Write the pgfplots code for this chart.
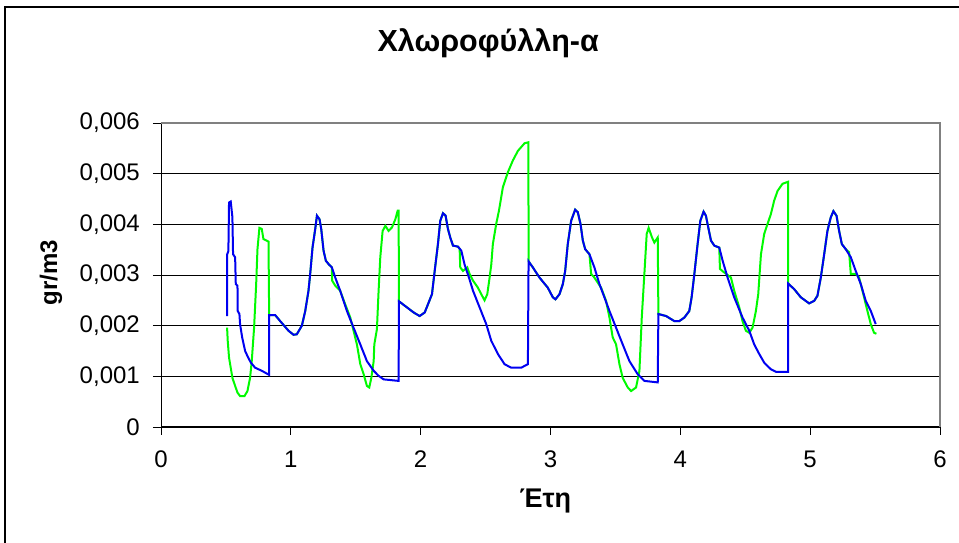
\documentclass[border=0pt]{standalone}
\usepackage{fontspec}
\setmainfont{Liberation Sans}
\usepackage{pgfplots}
\pgfplotsset{compat=1.18}
\definecolor{xlblue}{RGB}{0,0,240}
\definecolor{xlgreen}{RGB}{0,250,0}
\begin{document}
\begin{tikzpicture}
\useasboundingbox (0,0) rectangle (959bp,543bp);
\draw[black, line width=1.4bp] (5bp,-2bp) -- (5bp,536bp) -- (962bp,536bp);
\begin{axis}[
  at={(161bp,116bp)}, anchor=south west,
  scale only axis, width=779bp, height=304bp,
  xmin=0, xmax=6, ymin=0, ymax=0.006,
  axis x line*=bottom, axis y line*=left,
  axis line style={black, line width=1bp, -},
  xtick={0,1,2,3,4,5,6},
  xticklabels={0,1,2,3,4,5,6},
  ytick={0,0.001,0.002,0.003,0.004,0.005,0.006},
  yticklabels={0,{0,001},{0,002},{0,003},{0,004},{0,005},{0,006}},
  scaled y ticks=false,
  tick align=outside, major tick length=8bp,
  tick style={black, line width=0.8bp},
  ymajorgrids, major grid style={black, line width=0.8bp},
  ticklabel style={font=\fontsize{24bp}{28bp}\selectfont, inner sep=0pt},
  yticklabel style={anchor=east, xshift=-13bp},
  xticklabel style={anchor=north, yshift=-16bp},
  title={Χλωροφύλλη-α},
  title style={font=\bfseries\fontsize{30.5bp}{34bp}\selectfont, at={(axis description cs:0.42,1.217)}, anchor=base, inner sep=0pt},
  xlabel={Έτη},
  xlabel style={font=\bfseries\fontsize{27bp}{30bp}\selectfont, at={(axis description cs:0.4935,-0.266)}, anchor=base, inner sep=0pt},
  ylabel={gr/m3},
  ylabel style={font=\bfseries\fontsize{24bp}{28bp}\selectfont, at={(axis description cs:-0.1335,0.507)}, anchor=base, inner sep=0pt, rotate=0},
  clip=false,
]
\draw[gray, line width=1.2bp] (rel axis cs:0,1) -- (rel axis cs:1,1) -- (rel axis cs:1,0);
\addplot[xlgreen, line width=2bp] coordinates {
(0.509,0.00196)(0.514,0.00170)(0.524,0.00137)(0.550,0.00097)(0.571,0.00081)(0.589,0.00068)(0.609,0.00061)(0.643,0.00061)(0.666,0.00071)(0.686,0.00097)(0.699,0.00130)(0.717,0.00196)(0.733,0.00282)(0.743,0.00351)(0.758,0.00393)(0.776,0.00391)(0.789,0.00371)(0.828,0.00366)(0.833,0.00221)
(0.879,0.00221)(0.918,0.00209)(0.982,0.00190)(1.021,0.00182)(1.046,0.00183)(1.085,0.00200)(1.111,0.00229)(1.136,0.00269)(1.149,0.00302)(1.167,0.00354)(1.188,0.00391)(1.201,0.00417)(1.221,0.00410)(1.234,0.00391)(1.252,0.00348)(1.270,0.00328)(1.296,0.00320)(1.316,0.00315)
(1.318,0.00289)(1.342,0.00279)(1.380,0.00269)(1.419,0.00242)(1.458,0.00216)(1.483,0.00190)(1.509,0.00163)(1.535,0.00124)(1.561,0.00104)(1.586,0.00081)(1.604,0.00078)(1.620,0.00097)(1.638,0.00130)(1.643,0.00163)(1.663,0.00193)(1.676,0.00269)(1.689,0.00335)(1.707,0.00387)(1.728,0.00397)(1.753,0.00387)(1.779,0.00394)(1.805,0.00410)(1.823,0.00427)(1.830,0.00427)(1.833,0.00248)
(1.895,0.00236)(1.946,0.00226)(1.992,0.00219)(2.031,0.00226)(2.087,0.00262)(2.108,0.00308)(2.133,0.00361)(2.151,0.00407)(2.172,0.00422)(2.192,0.00417)(2.210,0.00391)(2.228,0.00374)(2.249,0.00358)(2.287,0.00356)(2.300,0.00352)
(2.305,0.00315)(2.326,0.00308)(2.359,0.00315)(2.377,0.00302)(2.403,0.00289)(2.441,0.00275)(2.467,0.00262)(2.492,0.00250)(2.513,0.00262)(2.531,0.00295)(2.544,0.00321)(2.556,0.00361)(2.582,0.00401)(2.603,0.00427)(2.633,0.00473)(2.672,0.00503)(2.710,0.00526)(2.749,0.00545)(2.800,0.00560)(2.830,0.00562)(2.831,0.00327)
(2.864,0.00315)(2.915,0.00295)(2.979,0.00275)(3.018,0.00256)(3.038,0.00252)(3.069,0.00262)(3.095,0.00282)(3.113,0.00308)(3.133,0.00361)(3.159,0.00407)(3.190,0.00429)(3.210,0.00424)(3.231,0.00401)(3.249,0.00368)(3.267,0.00351)(3.300,0.00341)
(3.313,0.00302)(3.338,0.00295)(3.390,0.00275)(3.428,0.00249)(3.454,0.00216)(3.479,0.00177)(3.505,0.00163)(3.531,0.00124)(3.556,0.00097)(3.595,0.00078)(3.621,0.00071)(3.659,0.00078)(3.685,0.00111)(3.703,0.00216)(3.723,0.00302)(3.741,0.00381)(3.756,0.00393)(3.782,0.00374)(3.800,0.00364)(3.826,0.00374)(3.831,0.00223)
(3.890,0.00219)(3.954,0.00209)(3.992,0.00209)(4.031,0.00216)(4.069,0.00229)(4.087,0.00256)(4.108,0.00302)(4.133,0.00361)(4.154,0.00407)(4.179,0.00425)(4.197,0.00417)(4.215,0.00394)(4.236,0.00368)(4.262,0.00358)(4.300,0.00354)
(4.305,0.00312)(4.338,0.00305)(4.390,0.00295)(4.415,0.00269)(4.454,0.00236)(4.479,0.00209)(4.505,0.00190)(4.531,0.00186)(4.556,0.00196)(4.582,0.00229)(4.600,0.00262)(4.621,0.00341)(4.646,0.00381)(4.672,0.00401)(4.697,0.00420)(4.723,0.00447)(4.749,0.00466)(4.787,0.00480)(4.830,0.00484)(4.831,0.00283)
(4.877,0.00272)(4.928,0.00256)(4.992,0.00244)(5.031,0.00249)(5.056,0.00259)(5.082,0.00295)(5.108,0.00341)(5.133,0.00387)(5.159,0.00414)(5.179,0.00426)(5.203,0.00417)(5.223,0.00387)(5.244,0.00361)(5.274,0.00351)(5.300,0.00345)
(5.313,0.00302)(5.351,0.00302)(5.377,0.00295)(5.415,0.00256)(5.441,0.00229)(5.467,0.00203)(5.492,0.00186)(5.510,0.00184)
};
\addplot[xlblue, line width=2bp] coordinates {
(0.509,0.00219)(0.510,0.00341)(0.519,0.00347)(0.524,0.00443)(0.537,0.00445)(0.550,0.00414)(0.555,0.00341)(0.571,0.00335)(0.576,0.00282)(0.589,0.00279)(0.591,0.00229)(0.604,0.00223)(0.609,0.00203)(0.625,0.00177)(0.648,0.00150)(0.666,0.00140)(0.692,0.00127)(0.725,0.00117)(0.776,0.00111)(0.832,0.00103)(0.833,0.00221)
(0.879,0.00221)(0.918,0.00209)(0.982,0.00190)(1.021,0.00182)(1.046,0.00183)(1.085,0.00200)(1.111,0.00229)(1.136,0.00269)(1.149,0.00302)(1.167,0.00354)(1.188,0.00391)(1.201,0.00417)(1.221,0.00410)(1.234,0.00391)(1.252,0.00348)(1.270,0.00328)(1.296,0.00320)(1.316,0.00315)(1.342,0.00295)(1.380,0.00269)(1.432,0.00229)(1.483,0.00196)(1.535,0.00163)(1.586,0.00130)(1.638,0.00111)(1.676,0.00101)(1.715,0.00094)(1.830,0.00091)(1.833,0.00248)
(1.895,0.00236)(1.946,0.00226)(1.992,0.00219)(2.031,0.00226)(2.087,0.00262)(2.108,0.00308)(2.133,0.00361)(2.151,0.00407)(2.172,0.00422)(2.192,0.00417)(2.210,0.00391)(2.228,0.00374)(2.249,0.00358)(2.287,0.00356)(2.313,0.00348)(2.338,0.00321)(2.372,0.00295)(2.403,0.00269)(2.454,0.00236)(2.505,0.00203)(2.544,0.00170)(2.595,0.00144)(2.646,0.00124)(2.697,0.00117)(2.774,0.00117)(2.826,0.00124)(2.831,0.00327)
(2.864,0.00315)(2.915,0.00295)(2.979,0.00275)(3.018,0.00256)(3.038,0.00252)(3.069,0.00262)(3.095,0.00282)(3.113,0.00308)(3.133,0.00361)(3.159,0.00407)(3.190,0.00429)(3.210,0.00424)(3.231,0.00401)(3.249,0.00368)(3.267,0.00351)(3.300,0.00341)(3.338,0.00315)(3.377,0.00282)(3.415,0.00256)(3.454,0.00229)(3.505,0.00196)(3.556,0.00163)(3.608,0.00130)(3.672,0.00104)(3.723,0.00091)(3.826,0.00088)(3.831,0.00223)
(3.890,0.00219)(3.954,0.00209)(3.992,0.00209)(4.031,0.00216)(4.069,0.00229)(4.087,0.00256)(4.108,0.00302)(4.133,0.00361)(4.154,0.00407)(4.179,0.00425)(4.197,0.00417)(4.215,0.00394)(4.236,0.00368)(4.262,0.00358)(4.300,0.00354)(4.326,0.00328)(4.364,0.00295)(4.415,0.00256)(4.479,0.00216)(4.531,0.00190)(4.569,0.00163)(4.608,0.00144)(4.646,0.00127)(4.697,0.00114)(4.736,0.00109)(4.830,0.00109)(4.831,0.00283)
(4.877,0.00272)(4.928,0.00256)(4.992,0.00244)(5.031,0.00249)(5.056,0.00259)(5.082,0.00295)(5.108,0.00341)(5.133,0.00387)(5.159,0.00414)(5.179,0.00426)(5.203,0.00417)(5.223,0.00387)(5.244,0.00361)(5.274,0.00351)(5.313,0.00335)(5.351,0.00308)(5.390,0.00282)(5.428,0.00249)(5.467,0.00229)(5.505,0.00203)
};
\end{axis}
\end{tikzpicture}
\end{document}
